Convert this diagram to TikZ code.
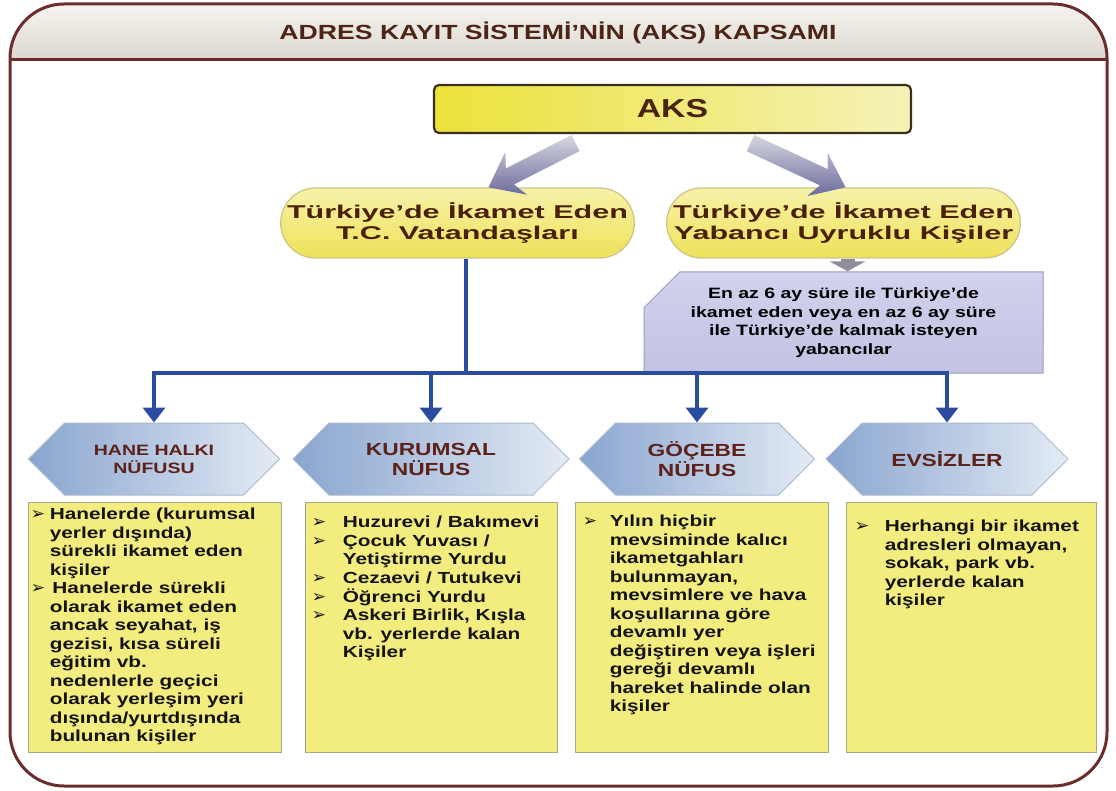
\documentclass[tikz,border=0pt]{standalone}
\usepackage{fontspec}
\setmainfont{Liberation Sans}[FakeStretch=1.3]
\newfontfamily\genisfont{Liberation Sans}[FakeStretch=1.65]
\newfontfamily\isaretfont{DejaVu Sans}
\usepackage{xcolor}
\usetikzlibrary{calc}
\usetikzlibrary{arrows.meta}
\usetikzlibrary{shapes.misc}
\usetikzlibrary{shapes.symbols}

\definecolor{cerceve}{HTML}{6B2C2C}
\definecolor{baslikust}{HTML}{F8F6F2}
\definecolor{baslikalt}{HTML}{DCD8CF}
\definecolor{baslikyazi}{HTML}{4D2418}
\definecolor{aksol}{HTML}{EBE23A}
\definecolor{aksag}{HTML}{F6F2B8}
\definecolor{akscizgi}{HTML}{3A3020}
\definecolor{aksyazi}{HTML}{4A2410}
\definecolor{okacik}{HTML}{D6D6E0}
\definecolor{okkoyu}{HTML}{6C6C9E}
\definecolor{okgri}{HTML}{8E8E9C}
\definecolor{hapust}{HTML}{F7F1A8}
\definecolor{hapalt}{HTML}{EEE25A}
\definecolor{hapcizgi}{HTML}{CFC68A}
\definecolor{hapyazi}{HTML}{4A200A}
\definecolor{morust}{HTML}{D2D2EE}
\definecolor{moralt}{HTML}{C2C2E2}
\definecolor{morcizgi}{HTML}{9C9CC0}
\definecolor{mavi}{HTML}{2A4CA0}
\definecolor{altsol}{HTML}{89A5CF}
\definecolor{altsag}{HTML}{E4EBF5}
\definecolor{altcizgi}{HTML}{AAB8D0}
\definecolor{altyazi}{HTML}{5C2219}
\definecolor{kutudolgu}{HTML}{F3EC7E}
\definecolor{kutucizgi}{HTML}{A9A78C}

\newcommand{\ok}{{\isaretfont\fontsize{17}{17}\selectfont ➢}}
% kalin blok ok: #1 kuyruk, #2 uc
\newcommand{\blokok}[2]{%
  \coordinate (bs) at ($(#2)!24pt!(#1)$);
  \coordinate (bh) at ($(#2)!31pt!(#1)$);
  \shade[top color=okacik, bottom color=okkoyu]
    ($(#1)!9pt!90:(#2)$) -- ($(bs)!9pt!-90:(#1)$) -- ($(bh)!24pt!-90:(#1)$) -- (#2)
    -- ($(bh)!24pt!90:(#1)$) -- ($(bs)!9pt!90:(#1)$) -- ($(#1)!9pt!-90:(#2)$) -- cycle;
}

\tikzset{
  baslik/.style={text=baslikyazi, font=\bfseries\fontsize{20.5}{24}\selectfont},
  aks/.style={draw=akscizgi, line width=2.2pt, rounded corners=5pt, left color=aksol, right color=aksag,
    minimum width=477pt, minimum height=48pt, text=aksyazi, font=\bfseries\fontsize{26}{30}\selectfont},
  hap/.style={rounded rectangle, draw=hapcizgi, line width=1.3pt, top color=hapust, bottom color=hapalt,
    minimum width=349pt, minimum height=70pt, inner sep=0pt, align=center, text=hapyazi,
    font=\genisfont\bfseries\fontsize{18.5}{20.5}\selectfont},
  kosul/.style={chamfered rectangle, chamfered rectangle corners=north west, chamfered rectangle xsep=20pt,
    chamfered rectangle ysep=16pt, draw=morcizgi, line width=1pt, top color=morust, bottom color=moralt,
    minimum width=399pt, minimum height=81pt, inner sep=0pt, align=center,
    font=\bfseries\fontsize{15}{18.5}\selectfont},
  altigen/.style={signal, signal to=east and west, signal pointer angle=90, draw=altcizgi, line width=1pt,
    left color=altsol, right color=altsag, minimum height=72pt, inner sep=0pt, align=center, text=altyazi,
    font=\bfseries\fontsize{17.5}{20}\selectfont},
  kutu/.style={draw=kutucizgi, line width=0.8pt, fill=kutudolgu, minimum height=250pt, inner sep=0pt},
  madde/.style={anchor=north west, inner sep=0pt, text=black!92, font=\bfseries\fontsize{16}{18.5}\selectfont},
  kucukok/.style={draw=okgri, line width=14pt, >={Triangle[width=36pt,length=10pt]}},
  mavicizgi/.style={draw=mavi, line width=4pt, >={Triangle[width=22pt,length=15pt]}}
}

\begin{document}
\begin{tikzpicture}[x=1pt,y=-1pt]
\useasboundingbox (0,0) rectangle (1116,791);
% cerceve ve baslik
\begin{scope}
\clip[rounded corners=54pt] (10,4) rectangle (1107,786);
\shade[top color=baslikust, bottom color=baslikalt] (0,0) rectangle (1116,60);
\end{scope}
\draw[cerceve, line width=3pt, rounded corners=54pt] (10,4) rectangle (1107,786);
\draw[cerceve, line width=3pt] (10,60) -- (1107,60);
\node[baslik] (baslik) at (558,33) {ADRES KAYIT SİSTEMİ’NİN (AKS) KAPSAMI};

% ust kisim
\node[aks] (aks) at (672.5,109) {AKS};
\node[hap] (tc) at (457.5,223) {Türkiye’de İkamet Eden\\T.C. Vatandaşları};
\node[hap] (yab) at (843.5,223) {Türkiye’de İkamet Eden\\Yabancı Uyruklu Kişiler};
\node[kosul] (kosul) at (843.5,322.5) {En az 6 ay süre ile Türkiye’de\\ikamet eden veya en az 6 ay süre\\ile Türkiye’de kalmak isteyen\\yabancılar};
\coordinate (solkuyruk) at ([xshift=-97pt,yshift=-9pt]aks.south);
\coordinate (soluc) at ([xshift=31pt]tc.north);
\coordinate (sagkuyruk) at ([xshift=78pt,yshift=-9pt]aks.south);
\coordinate (saguc) at ([xshift=2pt]yab.north);
\blokok{solkuyruk}{soluc}
\blokok{sagkuyruk}{saguc}
\draw[kucukok,->] ([xshift=4pt]yab.south) -- ([xshift=4pt]yab.south |- kosul.north);

% nufus turleri
\node[altigen, minimum width=251pt, font=\bfseries\fontsize{15}{18}\selectfont] (h1) at (154,459) {HANE HALKI\\NÜFUSU};
\node[altigen, minimum width=276pt] (h2) at (431,459) {KURUMSAL\\NÜFUS};
\node[altigen, minimum width=235pt] (h3) at (697,459) {GÖÇEBE\\NÜFUS};
\node[altigen, minimum width=242pt] (h4) at (947,459) {EVSİZLER};

\coordinate (catal) at (466,373);
\draw[mavicizgi] (tc.south -| catal) -- (catal);
\draw[mavicizgi,<->] (h1.north) |- (catal) -| (h4.north);
\draw[mavicizgi,->] (h2.north |- catal) -- (h2.north);
\draw[mavicizgi,->] (h3.north |- catal) -- (h3.north);

% aciklama kutulari
\node[kutu, minimum width=253pt] (k1) at (154.5,627) {};
\node[kutu, minimum width=252pt] (k2) at (431,627) {};
\node[kutu, minimum width=253pt] (k3) at (701.5,627) {};
\node[kutu, minimum width=250pt] (k4) at (971,627) {};

\node[madde] (m1) at ([xshift=3pt,yshift=-5pt]k1.north west) {\begin{tabular}{@{}p{19pt}@{}l@{}}
\ok & Hanelerde (kurumsal\\
 & yerler dışında)\\
 & sürekli ikamet eden\\
 & kişiler\\
\ok & \,Hanelerde sürekli\\
 & olarak ikamet eden\\
 & ancak seyahat, iş\\
 & gezisi, kısa süreli\\
 & eğitim vb.\\
 & nedenlerle geçici\\
 & olarak yerleşim yeri\\
 & dışında/yurtdışında\\
 & bulunan kişiler
\end{tabular}};
\node[madde] (m2) at ([xshift=7pt,yshift=-13pt]k2.north west) {\begin{tabular}{@{}p{31pt}@{}l@{}}
\ok & Huzurevi / Bakımevi\\
\ok & Çocuk Yuvası /\\
 & Yetiştirme Yurdu\\
\ok & Cezaevi / Tutukevi\\
\ok & Öğrenci Yurdu\\
\ok & Askeri Birlik, Kışla\\
 & vb. yerlerde kalan\\
 & Kişiler
\end{tabular}};
\node[madde] (m3) at ([xshift=8pt,yshift=-12pt]k3.north west) {\begin{tabular}{@{}p{27pt}@{}l@{}}
\ok & Yılın hiçbir\\
 & mevsiminde kalıcı\\
 & ikametgahları\\
 & bulunmayan,\\
 & mevsimlere ve hava\\
 & koşullarına göre\\
 & devamlı yer\\
 & değiştiren veya işleri\\
 & gereği devamlı\\
 & hareket halinde olan\\
 & kişiler
\end{tabular}};
\node[madde] (m4) at ([xshift=9pt,yshift=-17pt]k4.north west) {\begin{tabular}{@{}p{30pt}@{}l@{}}
\ok & Herhangi bir ikamet\\
 & adresleri olmayan,\\
 & sokak, park vb.\\
 & yerlerde kalan\\
 & kişiler
\end{tabular}};
\end{tikzpicture}
\end{document}
